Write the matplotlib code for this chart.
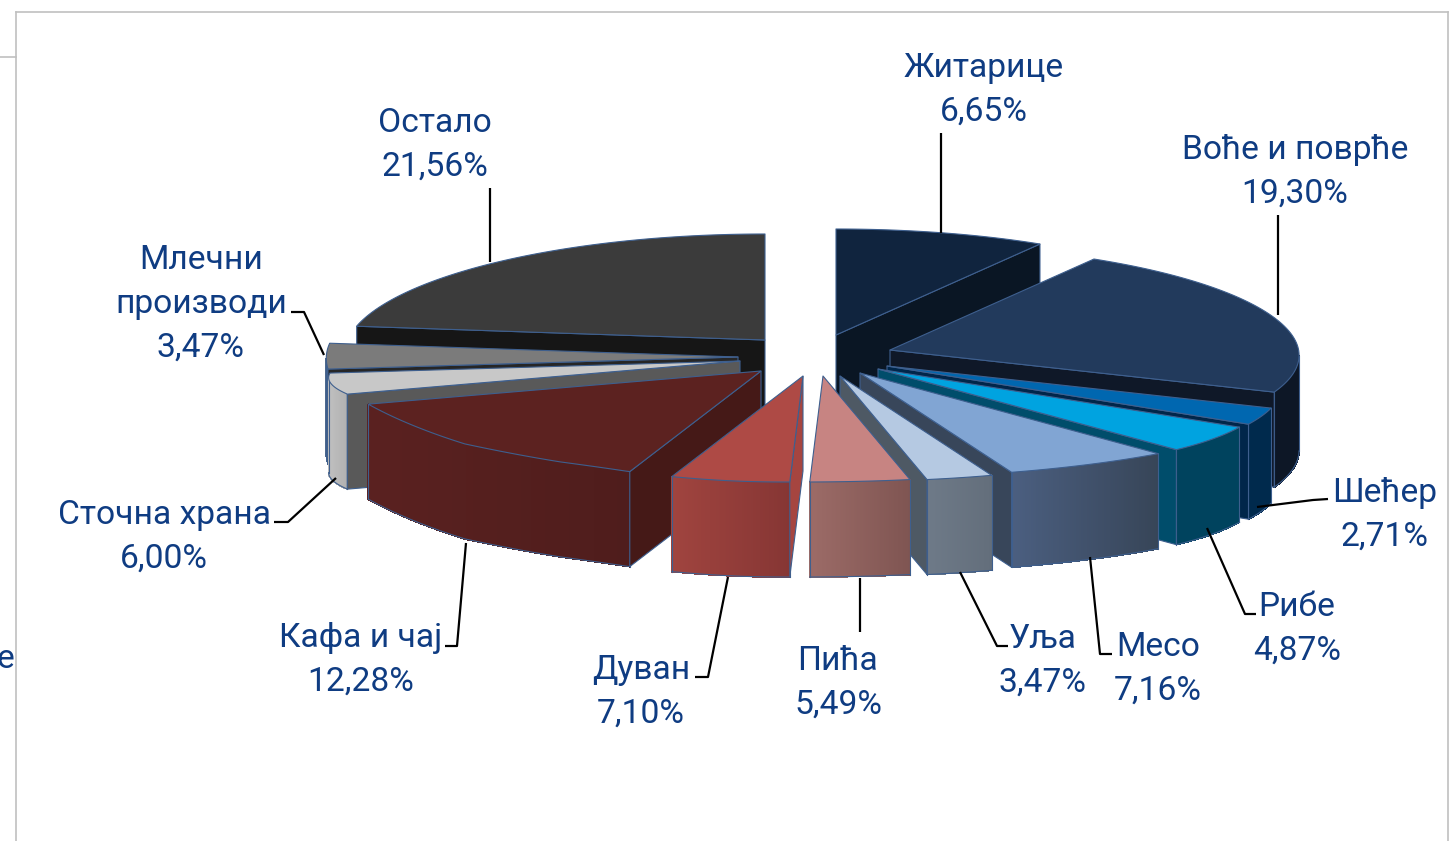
import numpy as np
import matplotlib as mpl
import matplotlib.pyplot as plt
from matplotlib.patches import Polygon
from matplotlib.colors import to_rgb

mpl.rcParams['font.family'] = ['Roboto', 'DejaVu Sans']

# data, clockwise from 12 o'clock
names = ['Житарице', 'Воће и поврће', 'Шећер', 'Рибе', 'Месо', 'Уља', 'Пића',
         'Дуван', 'Кафа и чај', 'Сточна храна', 'Млечни\nпроизводи', 'Остало']
values = [6.65, 19.30, 2.71, 4.87, 7.16, 3.47, 5.49, 7.10, 12.28, 6.00, 3.47, 21.56]

# looks of the slices
top_col = ['#10243E', '#223A5C', '#0067B0', '#00A3E0', '#81A5D3', '#B5C9E2', '#C78482',
           '#AE4A45', '#5C2220', '#C8C8C8', '#7B7B7B', '#3B3B3B']
side_a = ['#0A1624', '#0D1726', '#002A4D', '#00435E', '#4B5F80', '#6E7A88', '#9C6B67',
          '#A0443F', '#5A2120', '#BEBEBE', '#4E6A8E', '#262626']
side_b = ['#0A1624', '#0D1726', '#002A4D', '#00435E', '#374558', '#636E7B', '#7F5552',
          '#863634', '#4F1D1C', '#B0B0B0', '#4E6A8E', '#262626']
wall_col = ['#0A1624', '#0F1828', '#00264A', '#004D6B', '#38465A', '#4E5964', '#7F5552',
            '#A64540', '#451917', '#595959', '#262626', '#161616']
# how far each slice is pulled out, px (x, y) of its tip from the pie centre
pull_x = [36, 90, 87, 78, 60, 40, 23, 3, -39, -60, -62, -35]
pull_y = [-27, -12, 4, 7, 11, 14, 14, 14, 9, -1, -5, -22]

cx, cy = 800, 362
rx_r, rx_l, ry, depth = 405, 410, 106, 95
edge = '#3E5F8E'

# warp of the circle, by cos(angle), the tool that made the chart is not a true ellipse
warp_c_r = [-1, -.93, -.83, -.51, -.06, .34, .91, 1]
warp_f_r = [.70, .70, .72, .86, .95, 1.07, 1.24, 1.28]
warp_c_l = [-1, -.91, -.858, -.688, -.366, 0, .218, 1]
warp_f_l = [.66, .70, .90, .98, 1.03, 1.0, 1.02, 1.0]
warp_t_l = [0, 4, 0, 0, -6, 12, 9, 0]


def rim(theta):
    s, c = np.sin(theta), np.cos(theta)
    right = s >= 0
    f = np.where(right, np.interp(c, warp_c_r, warp_f_r), np.interp(c, warp_c_l, warp_f_l))
    x = np.where(right, rx_r, rx_l) * s * f - 20 * np.clip(-c, 0, 1) ** 4
    y = -ry * c + np.where(right, 36 * s ** 2, np.interp(c, warp_c_l, warp_t_l))
    return x, y


def mix(a, b, t):
    a, b = np.array(to_rgb(a)), np.array(to_rgb(b))
    return tuple(a + (b - a) * t)


fig = plt.figure(figsize=(14.51, 8.41), dpi=100)
ax = fig.add_axes([0, 0, 1, 1])
ax.set_xlim(0, 1451)
ax.set_ylim(841, 0)
ax.axis('off')

# frame of the screenshot
for xs, ys in [([16, 16], [12, 841]), ([16, 1448], [12, 12]), ([1448, 1448], [12, 841]), ([0, 16], [57, 57])]:
    ax.plot(xs, ys, color='#C0C0C0', lw=1.2, zorder=0)

ends = np.cumsum(values) / np.sum(values) * 2 * np.pi
starts = np.r_[0, ends[:-1]]
mids = (starts + ends) / 2
order = np.argsort(-np.cos(mids))

z = 1
for i in order:
    ax_, ay_ = cx + pull_x[i], cy + pull_y[i]
    th = np.linspace(starts[i], ends[i], 80)
    dx, dy = rim(th)
    px, py = ax_ + dx, ay_ + dy

    # outer wall, cut in strips for the gradient (lighter on the left)
    for k in range(len(th) - 1):
        if px[k + 1] < px[k]:
            q = [(px[k], py[k]), (px[k + 1], py[k + 1]), (px[k + 1], py[k + 1] + depth), (px[k], py[k] + depth)]
            t = (px[k] - px[-1]) / max(px[0] - px[-1], 1)
            col = mix(side_a[i], side_b[i], np.clip(t, 0, 1))
            ax.add_patch(Polygon(q, closed=True, fc=col, ec=col, lw=0.6, antialiased=False, zorder=z))
            z += 1
    vis = px[1:] < px[:-1]
    if vis.any():
        idx = np.r_[np.where(vis)[0], np.where(vis)[0][-1] + 1]
        ax.plot(px[idx], py[idx] + depth, color=edge, lw=0.8, zorder=z)
        z += 1
        for j in [idx[0], idx[-1]]:
            ax.plot([px[j], px[j]], [py[j], py[j] + depth], color=edge, lw=0.8, zorder=z)
        z += 1

    # radial walls, only those turned to the viewer
    mx, my = px[40] - ax_, py[40] - ay_
    for j in [0, -1]:
        ex, ey = px[j] - ax_, py[j] - ay_
        if ex * my - ey * mx < 0 and ex > 0 or ex * my - ey * mx > 0 and ex < 0:
            q = [(ax_, ay_), (px[j], py[j]), (px[j], py[j] + depth), (ax_, ay_ + depth)]
            ax.add_patch(Polygon(q, closed=True, fc=wall_col[i], ec=edge, lw=0.8, zorder=z))
            z += 1

    # top
    q = np.c_[np.r_[ax_, px], np.r_[ay_, py]]
    ax.add_patch(Polygon(q, closed=True, fc=top_col[i], ec=edge, lw=0.8, joinstyle='round', zorder=z))
    z += 1

# leaders
leaders = [[(941, 133), (941, 233)],
           [(1278, 215), (1278, 315)],
           [(1257, 507), (1313, 500), (1328, 499)],
           [(1207, 528), (1245, 614), (1256, 614)],
           [(1090, 557), (1100, 654), (1112, 654)],
           [(960, 572), (997, 646), (1008, 646)],
           [(860, 578), (860, 632)],
           [(728, 577), (708, 677), (695, 677)],
           [(466, 543), (457, 646), (445, 646)],
           [(336, 478), (288, 522), (274, 522)],
           [(324, 355), (304, 312), (291, 312)],
           [(490, 188), (490, 262)]]
for pts in leaders:
    pts = np.array(pts)
    ax.plot(pts[:, 0], pts[:, 1], color='black', lw=1.6, zorder=z, solid_capstyle='butt')
z += 1

# labels
lab_x = [984, 1295, 1385, 1297, 1158, 1043, 838, 641, 361, 164, 201, 435]
lab_y = [90, 172, 515, 629, 669, 661, 683, 692, 660, 537, 304, 145]
txt_col = '#0F3C82'
for i in range(len(names)):
    s = names[i] + '\n' + ('%.2f' % values[i]).replace('.', ',') + '%'
    ax.text(lab_x[i], lab_y[i], s, ha='center', va='center', fontsize=24.2, color=txt_col,
            linespacing=1.47, zorder=z)

# cut off label of something outside the crop
ax.text(-3, 659, 'е', ha='left', va='center', fontsize=24.2, color=txt_col, zorder=z)

fig.savefig('out.png', dpi=100)
